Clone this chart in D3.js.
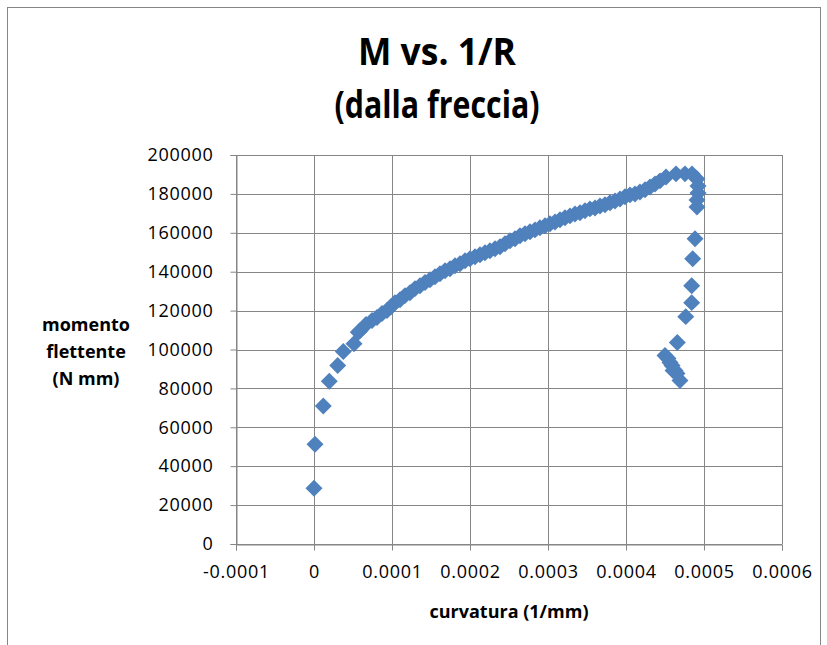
<!DOCTYPE html>
<html>
<head>
<meta charset="utf-8">
<script src="https://cdn.jsdelivr.net/npm/d3@7"></script>
<style>
  body { margin: 0; background: #fff; }
  text { font-family: "Open Sans", "Noto Sans", sans-serif; fill: #000; }
</style>
</head>
<body>
<div id="chart"></div>
<script>
// curvatura (1/mm) and momento flettente (N mm)
const curvature = [
  0.0000000, 0.0000013, 0.0000119, 0.0000196, 0.0000304, 0.0000376, 0.0000513, 0.0000568,
  0.0000590, 0.0000667, 0.0000744, 0.0000808, 0.0000872, 0.0000936, 0.0000987, 0.0001038,
  0.0001103, 0.0001167, 0.0001231, 0.0001295, 0.0001359, 0.0001423, 0.0001487, 0.0001551,
  0.0001615, 0.0001680, 0.0001744, 0.0001808, 0.0001872, 0.0001936, 0.0002000, 0.0002064,
  0.0002128, 0.0002192, 0.0002256, 0.0002321, 0.0002385, 0.0002449, 0.0002513, 0.0002577,
  0.0002641, 0.0002705, 0.0002769, 0.0002833, 0.0002897, 0.0002962, 0.0003026, 0.0003090,
  0.0003154, 0.0003218, 0.0003282, 0.0003346, 0.0003410, 0.0003474, 0.0003538, 0.0003603,
  0.0003667, 0.0003731, 0.0003795, 0.0003859, 0.0003923, 0.0003987, 0.0004051, 0.0004115,
  0.0004179, 0.0004244, 0.0004308, 0.0004372, 0.0004436, 0.0004513,
  0.0004641, 0.0004756, 0.0004846, 0.0004910, 0.0004923, 0.0004923, 0.0004910, 0.0004910,
  0.0004885, 0.0004855, 0.0004842, 0.0004842, 0.0004766, 0.0004658,
  0.0004500, 0.0004538, 0.0004564, 0.0004590, 0.0004603, 0.0004628, 0.0004654, 0.0004692
];
const moment = [
  28700, 51300, 70900, 83700, 91800, 99000, 102900, 108900,
  109700, 112800, 114900, 116400, 118500, 120000, 122000, 124100,
  125600, 127700, 129200, 131300, 132800, 134400, 135900, 137400,
  139000, 140500, 141500, 143100, 144100, 145600, 146700, 147700,
  148700, 149700, 150800, 151800, 152800, 154400, 155900, 156900,
  158500, 159500, 160500, 161500, 162600, 163600, 164600, 165600,
  166700, 167700, 168700, 169700, 170300, 171300, 172300, 172800,
  173800, 174400, 175400, 176400, 177400, 178500, 179500, 180000,
  181000, 182100, 183600, 185100, 186700, 188700,
  190300, 190300, 190300, 187700, 184100, 180500, 176900, 173300,
  156900, 146700, 132800, 124100, 116900, 103600,
  96900, 95400, 93300, 91800, 89200, 89200, 87700, 84100
];
const xTicks = [-0.0001, 0, 0.0001, 0.0002, 0.0003, 0.0004, 0.0005, 0.0006];
const yTicks = [0, 20000, 40000, 60000, 80000, 100000, 120000, 140000, 160000, 180000, 200000];
const titleLines = ["M vs. 1/R", "(dalla freccia)"];
const yLabelLines = ["momento", "flettente", "(N mm)"];
const xLabel = "curvatura (1/mm)";

const W = 827, H = 645;
const margin = { top: 155, right: 45, bottom: 101, left: 236 };
const grey = "#868686";

const svg = d3.select("#chart").append("svg")
  .attr("width", W).attr("height", H);

// chart frame
svg.append("rect")
  .attr("x", 7.5).attr("y", 7.5)
  .attr("width", 813).attr("height", 680)
  .attr("fill", "none").attr("stroke", grey);

const x = d3.scaleLinear().domain([-0.0001, 0.0006]).range([margin.left, W - margin.right]);
const y = d3.scaleLinear().domain([0, 200000]).range([H - margin.bottom, margin.top]);

// grid lines
svg.append("g")
  .selectAll("line.hg").data(yTicks).enter().append("line")
  .attr("x1", x(-0.0001)).attr("x2", x(0.0006))
  .attr("y1", d => Math.round(y(d)) + 0.5).attr("y2", d => Math.round(y(d)) + 0.5)
  .attr("stroke", grey);
svg.append("g")
  .selectAll("line.vg").data(xTicks).enter().append("line")
  .attr("x1", d => Math.round(x(d)) + 0.5).attr("x2", d => Math.round(x(d)) + 0.5)
  .attr("y1", y(0)).attr("y2", y(200000))
  .attr("stroke", grey);

// axes
const yAxis = svg.append("g")
  .attr("transform", `translate(${Math.round(x(-0.0001)) + 0.5},0)`)
  .call(d3.axisLeft(y).tickValues(yTicks).tickSize(6).tickPadding(17).tickFormat(d3.format("d")));
const xAxis = svg.append("g")
  .attr("transform", `translate(0,${Math.round(y(0)) + 0.5})`)
  .call(d3.axisBottom(x).tickValues(xTicks).tickSize(6).tickPadding(15)
    .tickFormat(d => d === 0 ? "0" : d3.format(".4f")(d).replace("−", "-")));

[yAxis, xAxis].forEach(a => {
  a.select(".domain").attr("stroke", grey);
  a.selectAll(".tick line").attr("stroke", grey);
  a.selectAll(".tick text")
    .attr("font-family", '"Open Sans", sans-serif')
    .attr("font-size", 18).attr("letter-spacing", "0.7px").attr("fill", "#000");
});
xAxis.selectAll(".tick text").attr("dy", "0.72em");

// markers
const diamond = d3.symbol().type(d3.symbolSquare).size(144);
svg.append("g")
  .selectAll("path").data(curvature.map((c, i) => [c, moment[i]])).enter().append("path")
  .attr("d", diamond)
  .attr("transform", d => `translate(${x(d[0])},${y(d[1])}) rotate(45)`)
  .attr("fill", "#4F81BD");

// title (squeezed to the narrow look of the original face)
const titleWidths = [158, 205];
svg.append("g").selectAll("text").data(titleLines).enter().append("text")
  .attr("x", 437).attr("y", (d, i) => 65 + i * 53)
  .attr("text-anchor", "middle")
  .attr("font-size", 38).attr("font-weight", "bold")
  .attr("textLength", (d, i) => titleWidths[i])
  .attr("lengthAdjust", "spacingAndGlyphs")
  .text(d => d);

// axis titles
svg.append("g").selectAll("text").data(yLabelLines).enter().append("text")
  .attr("x", 86).attr("y", (d, i) => 331 + i * 27)
  .attr("text-anchor", "middle")
  .attr("font-size", 18).attr("font-weight", "bold")
  .text(d => d);

svg.append("text")
  .attr("x", 509).attr("y", 618)
  .attr("text-anchor", "middle")
  .attr("font-size", 18).attr("font-weight", "bold")
  .text(xLabel);
</script>
</body>
</html>
